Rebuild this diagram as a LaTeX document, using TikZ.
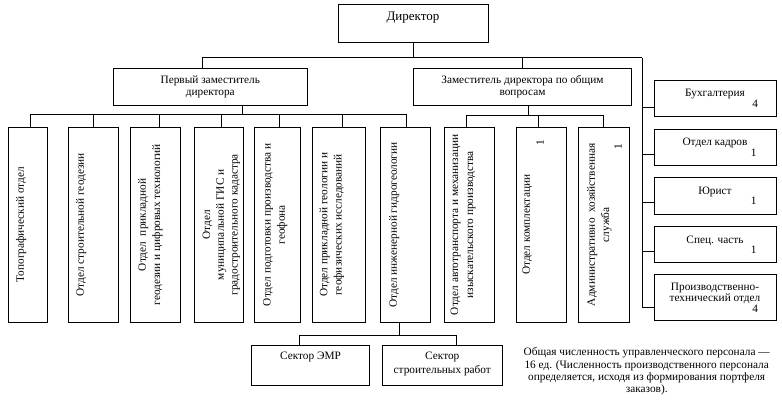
\documentclass[tikz,border=0pt]{standalone}
\usepackage{fontspec}
\usepackage{graphicx}
\setmainfont{Liberation Serif}
\usetikzlibrary{calc}
\newcommand\fs{\fontsize{11.3}{13}\selectfont}
\newcommand\tb[5]{\parbox[c][#2][t]{#1}{\centering\setlength\baselineskip{#3}\vspace*{#4}\rule{0pt}{8pt}#5\par}}
\newcommand\vb[5]{\rotatebox{90}{\tb{#1}{#2}{#3}{#4}{#5}}}
\newcommand\cb[3]{\parbox{#1}{\centering\setlength\baselineskip{#2}#3\par}}
\tikzset{
  box/.style={draw, line width=0.9pt, inner sep=0pt, outer sep=0pt, font=\fs},
  conn/.style={line width=0.9pt},
}
\begin{document}
\begin{tikzpicture}[x=1pt,y=-1pt]
\useasboundingbox[fill=white] (0,0) rectangle (782,400);
% top level
\node[box, minimum width=150pt, minimum height=37.6pt] (dir) at (413,23.5)
  {\tb{150pt}{37.6pt}{14pt}{7.3pt}{\fontsize{13}{15}\selectfont Директор}};
\node[box, minimum width=194pt, minimum height=37pt] (dep1) at (210.3,86.75)
  {\cb{194pt}{11.6pt}{Первый заместитель\\директора}};
\node[box, minimum width=218.3pt, minimum height=37pt] (dep2) at (522.5,86.75)
  {\cb{218.3pt}{11.8pt}{Заместитель директора по общим\\вопросам}};
% departments
\node[box, minimum width=39.4pt, minimum height=195pt] (d1) at (28,224.8)
  {\vb{195pt}{39.4pt}{14.3pt}{7.5pt}{Топографический отдел}};
\node[box, minimum width=50pt, minimum height=195pt] (d2) at (93.3,224.8)
  {\vb{195pt}{50pt}{14.3pt}{7.5pt}{Отдел строительной геодезии}};
\node[box, minimum width=50pt, minimum height=195pt] (d3) at (155.3,224.8)
  {\vb{195pt}{50pt}{14.3pt}{7.5pt}{Отдел~~прикладной\\геодезии и цифровых технологий}};
\node[box, minimum width=49.3pt, minimum height=195pt] (d4) at (218.7,224.8)
  {\vb{195pt}{49.3pt}{13.8pt}{8pt}{Отдел\\муниципальной ГИС и\\градостроительного кадастра}};
\node[box, minimum width=46pt, minimum height=195pt] (d5) at (277,224.8)
  {\vb{195pt}{46pt}{14.3pt}{8.5pt}{Отдел подготовки производства и\\геофона}};
\node[box, minimum width=53.4pt, minimum height=195pt] (d6) at (339,224.8)
  {\vb{195pt}{53.4pt}{14.3pt}{7pt}{Отдел прикладной геологии и\\геофизических исследований}};
\node[box, minimum width=49.7pt, minimum height=195pt] (d7) at (405.2,224.8)
  {\vb{195pt}{49.7pt}{14.3pt}{8.5pt}{Отдел инженерной гидрогеологии}};
\node[box, minimum width=50.3pt, minimum height=195pt] (d8) at (469.2,224.8)
  {\vb{195pt}{50.3pt}{15pt}{6pt}{Отдел автотранспорта и механизации\\изыскательского производства}};
\node[box, minimum width=50.7pt, minimum height=195pt] (d9) at (541.3,224.8)
  {\vb{195pt}{50.7pt}{14pt}{6pt}{Отдел комплектации\\\hfill 1\hspace*{13pt}\null}};
\node[box, minimum width=50.7pt, minimum height=195pt] (d10) at (603.7,224.8)
  {\vb{195pt}{50.7pt}{14.3pt}{8.5pt}{Административно~~хозяйственная\\служба\\[-1.5pt]\hfill 1\hspace*{16.5pt}\null}};
% right column
\node[box, minimum width=122pt, minimum height=36pt] (r1) at (715,98.7)
  {\cb{122pt}{9.8pt}{Бухгалтерия\\\hfill 4\hspace*{18pt}\null}};
\node[box, minimum width=122pt, minimum height=36.4pt] (r2) at (715,147.5)
  {\cb{122pt}{9.8pt}{Отдел кадров\\\hfill 1\hspace*{19.5pt}\null}};
\node[box, minimum width=122pt, minimum height=36.3pt] (r3) at (715,195.8)
  {\cb{122pt}{9.8pt}{Юрист\\\hfill 1\hspace*{19.5pt}\null}};
\node[box, minimum width=122pt, minimum height=36pt] (r4) at (715,244.7)
  {\cb{122pt}{9.8pt}{Спец. часть\\\hfill 1\hspace*{19.5pt}\null}};
\node[box, minimum width=122pt, minimum height=46pt] (r5) at (715,297.7)
  {\cb{122pt}{9.4pt}{Производственно-\\технический отдел\\\hfill 4\hspace*{18pt}\null}};
% sectors
\node[box, minimum width=117.6pt, minimum height=40pt] (s1) at (310.5,365)
  {\tb{117.6pt}{40pt}{14.5pt}{6pt}{Сектор ЭМР}};
\node[box, minimum width=119.3pt, minimum height=40pt] (s2) at (442.3,365)
  {\tb{119.3pt}{40pt}{14.5pt}{6pt}{Сектор\\строительных работ}};
% note
\node[font=\fs, align=center, inner sep=0pt] (note) at (646.7,371.5)
  {\cb{260pt}{12.3pt}{Общая численность управленческого персонала —\\16 ед. (Численность производственного персонала\\определяется, исходя из формирования портфеля\\заказов).}};
% connectors
\coordinate (tl) at (202.3,57.7);
\coordinate (tr) at (642,57.7);
\draw[conn] (dir.south) -- (dir.south |- tl);
\draw[conn] (tl) -- (tr);
\draw[conn] (tl) -- (tl |- dep1.north);
\draw[conn] (dep2.north) -- (dep2.north |- tr);
\coordinate (r1c) at ([yshift=-9pt]r1.west);
\coordinate (r2c) at ([yshift=-6.5pt]r2.west);
\coordinate (r3c) at ([yshift=-6.9pt]r3.west);
\coordinate (r4c) at ([yshift=-6.3pt]r4.west);
\coordinate (r5c) at ([yshift=-10pt]r5.west);
\draw[conn] (tr) -- (tr |- r5c) -- (r5c);
\foreach \r in {r1c,r2c,r3c,r4c} \draw[conn] (tr |- \r) -- (\r);
% first deputy bus
\coordinate (b1) at (242.7,114.5);
\draw[conn] (b1 |- dep1.south) -- (b1);
\draw[conn] ([xshift=2pt]d1.north) -- ([xshift=2pt]d1.north |- b1) -- ([xshift=0.8pt]d7.north |- b1) -- ([xshift=0.8pt]d7.north);
\draw[conn] (d2.north) -- (d2.north |- b1);
\draw[conn] ([xshift=3.7pt]d3.north) -- ([xshift=3.7pt]d3.north |- b1);
\draw[conn] ([xshift=3pt]d4.north) -- ([xshift=3pt]d4.north |- b1);
\draw[conn] ([xshift=2pt]d5.north) -- ([xshift=2pt]d5.north |- b1);
\draw[conn] ([xshift=3pt]d6.north) -- ([xshift=3pt]d6.north |- b1);
% second deputy bus
\coordinate (b2) at (528.3,115);
\draw[conn] (b2 |- dep2.south) -- (b2);
\draw[conn] ([xshift=-2.5pt]d8.north) -- ([xshift=-2.5pt]d8.north |- b2) -- (d10.north |- b2) -- (d10.north);
\draw[conn] ([xshift=-3pt]d9.north) -- ([xshift=-3pt]d9.north |- b2);
% sectors bus
\coordinate (b3) at (399.3,335);
\draw[conn] (b3 |- d7.south) -- (b3);
\draw[conn] ([xshift=-11.2pt]s1.north) -- ([xshift=-11.2pt]s1.north |- b3) -- ([xshift=13.7pt]s2.north |- b3) -- ([xshift=13.7pt]s2.north);
\end{tikzpicture}
\end{document}
